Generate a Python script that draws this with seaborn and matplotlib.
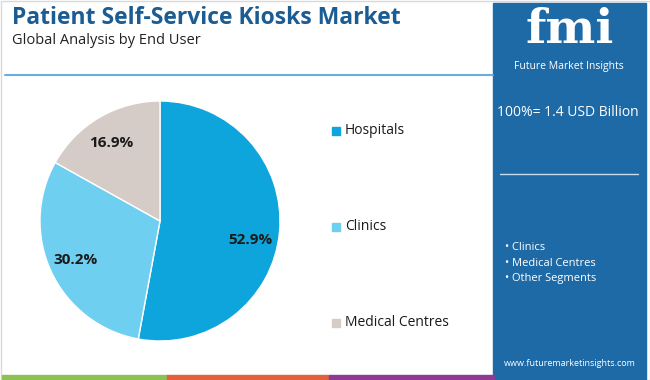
import matplotlib
matplotlib.use("Agg")
import matplotlib.pyplot as plt
import seaborn as sns
from matplotlib.patches import Rectangle

# Patient self-service kiosks market share by end user
segments = ['Hospitals', 'Clinics', 'Medical Centres']
shares = [52.9, 30.2, 16.9]
colors = ['#0ea5dc', '#6fcff1', '#d5ccc8']
side_items = ['Clinics', 'Medical Centres', 'Other Segments']
total_label = '100%= 1.4 USD Billion'

sns.set_theme(style='white')
plt.rcParams['font.family'] = ['Open Sans', 'DejaVu Sans']

W, H = 650, 380
fig = plt.figure(figsize=(W / 100, H / 100), dpi=100)
fig.patch.set_facecolor('white')

# background layer in pixel coordinates
bg = fig.add_axes([0, 0, 1, 1])
bg.set_xlim(0, W)
bg.set_ylim(H, 0)
bg.axis('off')
bg.add_patch(Rectangle((0.5, 0.5), W - 1, H - 1, fill=False, ec='#d9d9d9', lw=1))
bg.add_patch(Rectangle((493, 3), 153, 377, color='#1e6aa7'))
for x0, x1, c in [(2, 167, '#8cc153'), (167, 329, '#e2603a'), (329, 494, '#8e3a94')]:
    bg.add_patch(Rectangle((x0, 375), x1 - x0, 5, color=c))
bg.plot([5, 493], [75, 75], color='#6aafdc', lw=1.5)
bg.plot([500, 638], [174, 174], color='#c9dcec', lw=1)

bg.text(12, 18, 'Patient Self-Service Kiosks Market', fontsize=16.5, fontweight='bold',
        color='#1b5c93', va='center')
bg.text(12, 41, 'Global Analysis by End User', fontsize=10.5, color='#222222', va='center')

# right panel texts
bg.text(570, 30, 'fmi', fontsize=34, fontweight='bold', color='white', ha='center',
        va='center', family='DejaVu Serif')
bg.text(569, 66, 'Future Market Insights', fontsize=7.5, color='white', ha='center', va='center')
bg.text(568, 113, total_label, fontsize=10, color='white', ha='center', va='center')
for i, item in enumerate(side_items):
    bg.text(505, 248 + i * 15.5, '• ' + item, fontsize=8, color='white', va='center')
bg.text(570, 364, 'www.futuremarketinsights.com', fontsize=6.5, color='white',
        ha='center', va='center')

# pie
cx, cy, r = 160, 221, 120
ax = fig.add_axes([(cx - r) / W, (H - cy - r) / H, 2 * r / W, 2 * r / H])
wedges, _ = ax.pie(shares, colors=colors, startangle=90, counterclock=False,
                   wedgeprops=dict(edgecolor='white', linewidth=1))
label_pos = [(250, 240), (76, 260), (111, 143)]
for (px, py), v in zip(label_pos, shares):
    ax.text((px - cx) / r, (cy - py) / r, f'{v}%', fontsize=11, fontweight='bold',
            color='#1a1a1a', ha='center', va='center')
ax.set_xlim(-1, 1)
ax.set_ylim(-1, 1)

# legend
for i, (name, c) in enumerate(zip(segments, colors)):
    y = 131 + i * 96
    bg.add_patch(Rectangle((332, y - 4), 8, 8, color=c))
    bg.text(345, y, name, fontsize=10, color='#1a1a1a', va='center')

fig.savefig('out.png', dpi=100)
